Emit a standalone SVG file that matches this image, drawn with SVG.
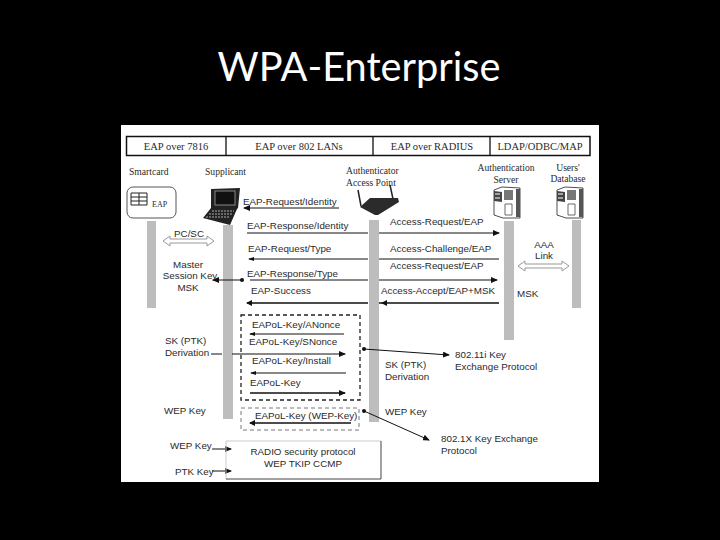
<svg xmlns="http://www.w3.org/2000/svg" width="720" height="540" viewBox="0 0 720 540">
<style>
.s{font-family:"Liberation Sans",Arial,sans-serif;font-size:9.8px;fill:#2a2a2a}
.f{font-family:"Liberation Serif","Times New Roman",serif;font-size:10.5px;fill:#2a2a2a}
.sm{font-size:9.6px}
.m{text-anchor:middle}
.life{fill:#bdbdbd}
.c{stroke:#111;stroke-width:1;fill:none}
.t{stroke-width:1.6}
.d{fill:none;stroke:#222;stroke-width:1.3;stroke-dasharray:4 3}
.d2{fill:none;stroke:#555;stroke-width:.8;stroke-dasharray:4 3}
.da{fill:#fff;stroke:#999;stroke-width:1}
</style>
<defs>
<marker id="a" markerWidth="7" markerHeight="6" refX="6" refY="3" orient="auto" markerUnits="userSpaceOnUse"><path d="M0 0L7 3L0 6Z" fill="#111"/></marker>
<g id="srv"><path d="M0 3L8 0L26 1V31L9 31L0 28Z" fill="#fff" stroke="#222" stroke-width=".8"/><path d="M0 4L8 5V15L0 14Z" fill="#444"/><path d="M10 3H19V13H10Z" fill="#777"/><path d="M11 17H18V28H11Z" fill="#fff" stroke="#444" stroke-width=".8"/><path d="M22 2L26 2V30L22 30Z" fill="#555"/><path d="M1 7H6M1 11H6" stroke="#fff"/></g>
</defs>
<rect width="720" height="540" fill="#000"/>
<text x="359" y="81" text-anchor="middle" font-family="Lato,'Open Sans',sans-serif" font-size="40" fill="#fff" textLength="283" lengthAdjust="spacingAndGlyphs">WPA-Enterprise</text>
<rect x="121" y="125" width="478" height="357" fill="#fff"/>

<g id="header">
<rect x="126.500" y="136.500" width="463.500" height="19" fill="#fff" stroke="#111" stroke-width="1.500"/>
<path d="M226 136V156M373 136V156M490 136V156" stroke="#111" stroke-width="1.300"/>
<text class="f m" x="176" y="150">EAP over 7816</text>
<text class="f m" x="299" y="150">EAP over 802 LANs</text>
<text class="f m" x="432" y="150">EAP over RADIUS</text>
<text class="f m" x="540" y="150">LDAP/ODBC/MAP</text>
</g>

<g id="lifelines">
<rect class="life" x="147" y="221" width="9" height="87"/>
<rect class="life" x="223" y="225" width="10" height="194"/>
<rect class="life" x="369" y="220" width="10" height="202"/>
<rect class="life" x="504" y="221" width="10" height="119"/>
<rect class="life" x="572" y="220" width="9" height="88"/>
</g>

<g id="smartcard">
<text class="f sm" x="129" y="175">Smartcard</text>
<rect x="127" y="187" width="49" height="31" rx="6" fill="#fff" stroke="#555"/>
<path d="M131 193H147V205H131ZM139 193V205M131 197H147M131 201H147" fill="none" stroke="#222"/>
<text class="f" x="152" y="207" style="font-size:8px">EAP</text>
</g>

<g id="supplicant">
<text class="f sm" x="205" y="175">Supplicant</text>
<path d="M211 189L240 188L238 208L237 209L230 225L203 218L211 208Z" fill="#222"/>
<rect x="215" y="191" width="20" height="14" fill="#111" stroke="#888"/>
<path d="M212 211H234M209 214H232M206 217H230" stroke="#aaa" stroke-dasharray="2 1"/>
</g>

<g id="access-point">
<text class="f sm" x="346" y="174">Authenticator</text>
<text class="f sm" x="346" y="186">Access Point</text>
<path d="M358 190L361 206M390 185L393 199" stroke="#222" stroke-width="1.500"/>
<path d="M360 207L370 198L398 198L399 202L378 215L375 215Z" fill="#2b2b2b"/>
</g>

<g id="auth-server">
<text class="f sm m" x="506" y="171">Authentication</text>
<text class="f sm m" x="506" y="183">Server</text>
<use href="#srv" x="494" y="187"/>
</g>

<g id="users-db">
<text class="f sm m" x="568" y="171">Users'</text>
<text class="f sm m" x="568" y="182">Database</text>
<use href="#srv" x="557" y="187"/>
</g>

<g id="connectors">
<path class="c" d="M339 208H244"/><path d="M243 208L250 205V211Z" fill="#111"/>
<path class="c" d="M247 233H368M379 233H499" marker-end="url(#a)"/>
<path class="c" d="M368 259H249M379 259H499"/><path d="M248 259L254 257V261Z" fill="#111"/>
<path class="c" d="M250 280H368M379 280H497" marker-end="url(#a)"/>
<path class="c" d="M242 280H213" marker-end="url(#a)"/><circle cx="242" cy="280" r="2" fill="#111"/>
<path class="c t" d="M368 303H247M379 303H499"/><path d="M246 303L252 300V306Z" fill="#111"/><path d="M381 303L387 300V306Z" fill="#111"/>
<path class="c" d="M344 334H250"/><path d="M249 334L255 332V336Z" fill="#111"/>
<path class="c" d="M211 354H222M232 354H345" marker-end="url(#a)"/>
<path class="c" d="M346 373H251"/><path d="M250 373L256 371V375Z" fill="#111"/>
<path class="c t" d="M250 393H345" marker-end="url(#a)"/>
<path class="c t" d="M351 423H250"/><path d="M249 423L255 420V426Z" fill="#111"/>
<path class="c" d="M212 449H231" marker-end="url(#a)"/>
<path class="c" d="M212 471H231" marker-end="url(#a)"/>
<circle cx="364" cy="349" r="2" fill="#111"/><path class="c" d="M364 349L449 355" marker-end="url(#a)"/>
<circle cx="364" cy="411" r="2" fill="#111"/><path class="c" d="M364 411L429 440" marker-end="url(#a)"/>
<path class="da" d="M163 241L170 236V239H207V236L214 241L207 246V243H170V246Z"/>
<path class="da" d="M518 266L525 261V264H562V261L569 266L562 271V268H525V271Z"/>
</g>

<g id="msg-labels">
<text class="s" x="243" y="205">EAP-Request/Identity</text>
<text class="s" x="247" y="229">EAP-Response/Identity</text>
<text class="s" x="248" y="252">EAP-Request/Type</text>
<text class="s" x="247" y="277">EAP-Response/Type</text>
<text class="s" x="251" y="294">EAP-Success</text>
<text class="s" x="390" y="225">Access-Request/EAP</text>
<text class="s" x="390" y="252">Access-Challenge/EAP</text>
<text class="s" x="390" y="269">Access-Request/EAP</text>
<text class="s" x="381" y="294">Access-Accept/EAP+MSK</text>
<text class="s" x="252" y="328">EAPoL-Key/ANonce</text>
<text class="s" x="249" y="345">EAPoL-Key/SNonce</text>
<text class="s" x="252" y="364">EAPoL-Key/Install</text>
<text class="s" x="250" y="386">EAPoL-Key</text>
<text class="s" x="255" y="419">EAPoL-Key (WEP-Key)</text>
</g>

<g id="side-labels">
<text class="s m" x="189" y="237">PC/SC</text>
<text class="s m" x="188" y="268">Master</text>
<text class="s m" x="190" y="279">Session  Key</text>
<text class="s m" x="188" y="291">MSK</text>
<text class="s m" x="544" y="248">AAA</text>
<text class="s m" x="544" y="259">Link</text>
<text class="s" x="517" y="297">MSK</text>
<text class="s" x="165" y="344">SK (PTK)</text>
<text class="s" x="165" y="356">Derivation</text>
<text class="s" x="164" y="414">WEP Key</text>
<text class="s" x="385" y="368">SK (PTK)</text>
<text class="s" x="385" y="380">Derivation</text>
<text class="s" x="385" y="415">WEP Key</text>
<text class="s" x="455" y="358">802.11i Key</text>
<text class="s" x="455" y="370">Exchange Protocol</text>
<text class="s" x="441" y="442">802.1X Key Exchange</text>
<text class="s" x="441" y="454">Protocol</text>
<text class="s" x="170" y="449">WEP Key</text>
<text class="s" x="175" y="475">PTK Key</text>
</g>

<g id="key-boxes">
<rect class="d" x="241" y="315" width="119" height="85"/>
<rect class="d2" x="241" y="408" width="118" height="22"/>
</g>

<g id="radio">
<path d="M226 479V441H381" fill="none" stroke="#ccc"/>
<path d="M381 441V479H226" fill="none" stroke="#444"/>
<text class="s m" x="303" y="455">RADIO security protocol</text>
<text class="s m" x="303" y="467">WEP TKIP  CCMP</text>
</g>
</svg>
